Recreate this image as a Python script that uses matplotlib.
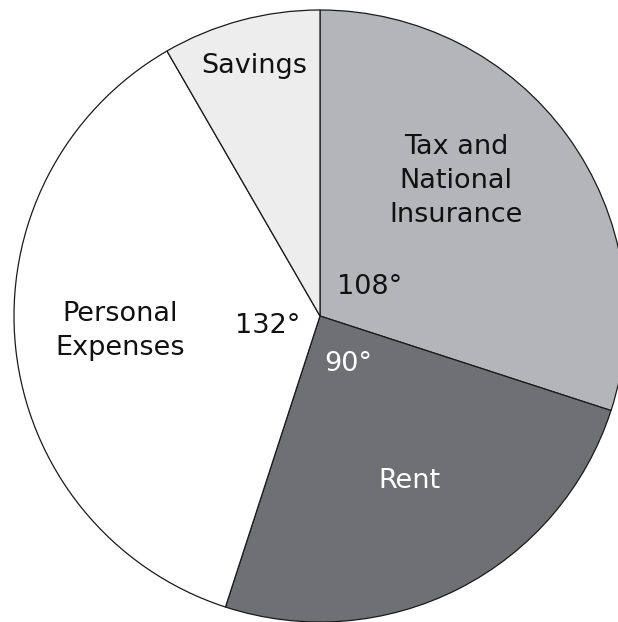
import matplotlib
matplotlib.use("Agg")
import matplotlib.pyplot as plt

# slices, clockwise from 12 o'clock
labels = ['Tax and\nNational\nInsurance', 'Rent', 'Personal\nExpenses', 'Savings']
angles = [108, 90, 132, 30]
colors = ['#b4b5b8', '#6f7074', '#ffffff', '#ededed']
angle_text = ['108°', '90°', '132°', None]

fig = plt.figure(figsize=(6.18, 6.22), dpi=100)
# circle centre ~ (320, 316) px, radius ~306 px
ax = fig.add_axes([14 / 618, 0, 612 / 618, 612 / 622])
ax.pie(angles, colors=colors, startangle=90, counterclock=False, radius=1,
       wedgeprops=dict(edgecolor='#1a1a1a', linewidth=0.9))
ax.set_xlim(-1, 1)
ax.set_ylim(-1, 1)
ax.set_aspect('equal')
ax.axis('off')

fs = 19.5
# name labels
name_pos = [(0.444, 0.441), (0.291, -0.539), (-0.654, -0.049), (-0.216, 0.817)]
name_col = ['#111111', 'white', '#111111', '#111111']
for lab, (x, y), c in zip(labels, name_pos, name_col):
    ax.text(x, y, lab, ha='center', va='center', fontsize=fs, color=c,
            linespacing=1.38)

# angle labels near the centre
deg_pos = [(0.163, 0.095), (0.092, -0.157), (-0.170, -0.033)]
deg_col = ['#111111', 'white', '#111111']
for t, (x, y), c in zip(angle_text[:3], deg_pos, deg_col):
    ax.text(x, y, t, ha='center', va='center', fontsize=fs, color=c)

fig.savefig('out.png', dpi=100)
